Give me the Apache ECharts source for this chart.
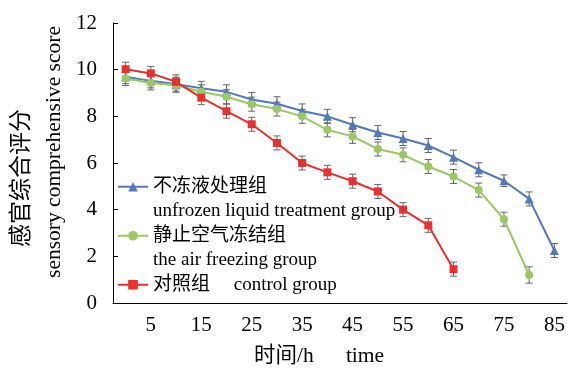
<!DOCTYPE html>
<html><head><meta charset="utf-8">
<script src="https://cdn.jsdelivr.net/npm/echarts@6/dist/echarts.min.js"></script>
<style>html,body{margin:0;padding:0;background:#fff}#c{width:568px;height:372px}</style>
</head><body><div id="c"></div>
<script>
// Data
const times = ['0','5','10','15','20','25','30','35','40','45','50','55','60','65','70','75','80','85'];
const yTicks = [0, 2, 4, 6, 8, 10, 12];

const unfrozen    = [9.70, 9.52, 9.38, 9.20, 9.05, 8.72, 8.54, 8.23, 8.00, 7.64, 7.31, 7.05, 6.75, 6.25, 5.71, 5.24, 4.46, 2.25];
const unfrozenErr = [0.30, 0.30, 0.30, 0.30, 0.30, 0.30, 0.30, 0.30, 0.30, 0.30, 0.30, 0.30, 0.30, 0.30, 0.30, 0.25, 0.30, 0.30];
const airFreezing    = [9.62, 9.43, 9.33, 9.05, 8.84, 8.52, 8.31, 8.00, 7.42, 7.14, 6.60, 6.35, 5.85, 5.42, 4.84, 3.59, 1.20];
const airFreezingErr = [0.30, 0.30, 0.30, 0.30, 0.30, 0.30, 0.30, 0.30, 0.30, 0.30, 0.30, 0.30, 0.30, 0.30, 0.30, 0.30, 0.35];
const control    = [10.02, 9.84, 9.48, 8.80, 8.22, 7.66, 6.86, 6.00, 5.60, 5.22, 4.78, 4.00, 3.33, 1.45];
const controlErr = [0.30, 0.30, 0.30, 0.30, 0.30, 0.30, 0.30, 0.30, 0.30, 0.30, 0.30, 0.30, 0.30, 0.30];

const names = ['不冻液处理组', '静止空气冻结组', '对照组'];
const legendText = {
  '不冻液处理组': '\n不冻液处理组\nunfrozen liquid treatment group',
  '静止空气冻结组': '\n静止空气冻结组\nthe air freezing group',
  '对照组': '\n对照组     control group\n'
};
const colors = ['#5479b8', '#9bc866', '#e8302f'];

const serif = "'Liberation Serif', 'Noto Sans CJK SC', serif";

function errData(vals, errs) {
  return vals.map((v, i) => [i, v, errs[i]]);
}
function errRender(params, api) {
  const x = api.value(0), v = api.value(1), e = api.value(2);
  const top = api.coord([x, v + e]);
  const bot = api.coord([x, v - e]);
  const hw = 3.5;
  const st = { stroke: '#666', lineWidth: 1 };
  return {
    type: 'group',
    children: [
      { type: 'line', shape: { x1: top[0], y1: top[1], x2: bot[0], y2: bot[1] }, style: st },
      { type: 'line', shape: { x1: top[0] - hw, y1: top[1], x2: top[0] + hw, y2: top[1] }, style: st },
      { type: 'line', shape: { x1: bot[0] - hw, y1: bot[1], x2: bot[0] + hw, y2: bot[1] }, style: st }
    ]
  };
}

const chart = echarts.init(document.getElementById('c'), null, { renderer: 'canvas' });
const lineData = [unfrozen, airFreezing, control];
const errs = [unfrozenErr, airFreezingErr, controlErr];
const symbols = ['triangle', 'circle', 'rect'];
const symSizes = [9, 8, 8];

const series = [];
for (let k = 0; k < 3; k++) {
  series.push({
    type: 'custom',
    name: names[k] + '_err',
    renderItem: errRender,
    data: errData(lineData[k], errs[k]),
    encode: { x: 0, y: 1 },
    z: 1,
    silent: true
  });
}
for (let k = 0; k < 3; k++) {
  series.push({
    type: 'line',
    name: names[k],
    data: lineData[k],
    symbol: symbols[k],
    symbolSize: symSizes[k],
    showAllSymbol: true,
    lineStyle: { color: colors[k], width: 2 },
    itemStyle: { color: colors[k] },
    z: 3
  });
}

chart.setOption({
  animation: false,
  backgroundColor: '#fff',
  grid: { left: 113, right: 1, top: 23, bottom: 69, containLabel: false, outerBoundsMode: 'none' },
  legend: {
    data: names,
    orient: 'vertical',
    left: 117,
    top: 150,
    padding: 0,
    itemGap: -24.5,
    itemWidth: 30,
    itemHeight: 12,
    formatter: n => legendText[n],
    textStyle: { fontFamily: serif, fontSize: 19, lineHeight: 24.5, color: '#000' }
  },
  xAxis: {
    type: 'category',
    data: times,
    boundaryGap: true,
    name: '时间/h      time',
    nameLocation: 'middle',
    nameGap: 43,
    nameTextStyle: { fontFamily: serif, fontSize: 21.5, color: '#000', padding: [0, 42, 0, 0] },
    axisLine: { lineStyle: { color: '#000', width: 1 } },
    axisTick: { inside: true, length: 5, alignWithLabel: true, interval: (i) => i % 2 === 1, lineStyle: { color: '#000' } },
    axisLabel: { interval: (i) => i % 2 === 1, margin: 12, fontFamily: serif, fontSize: 21, color: '#000' },
    splitLine: { show: false }
  },
  yAxis: {
    type: 'value',
    min: yTicks[0],
    max: yTicks[yTicks.length - 1],
    interval: 2,
    name: '{c|感官综合评分}\n{e|sensory comprehensive score}',
    nameLocation: 'middle',
    nameRotate: 90,
    nameGap: 40,
    nameTextStyle: {
      rich: {
        c: { fontFamily: "'Noto Sans CJK SC'", fontSize: 23, lineHeight: 35, color: '#000', padding: [0, 30, 0, 0] },
        e: { fontFamily: serif, fontSize: 21.5, lineHeight: 35, color: '#000', padding: [0, 0, 0, 22] }
      }
    },
    axisLine: { show: true, lineStyle: { color: '#000', width: 1 } },
    axisTick: { show: true, inside: true, length: 5, lineStyle: { color: '#000' } },
    axisLabel: { margin: 16, fontFamily: serif, fontSize: 21, color: '#000' },
    splitLine: { show: false }
  },
  series: series
});
</script>
</body></html>
